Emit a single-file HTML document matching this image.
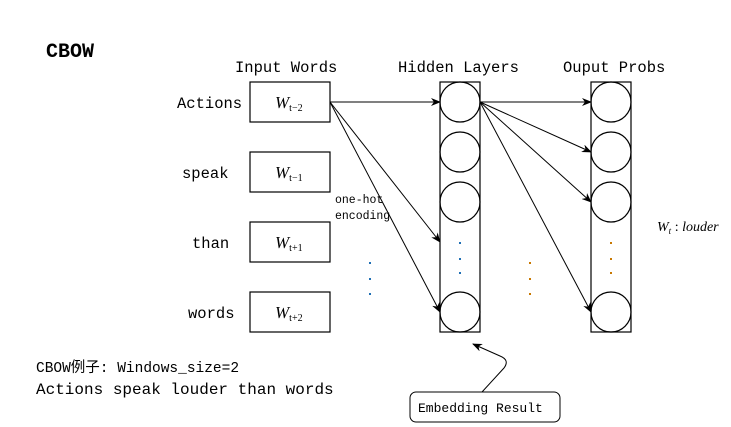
<!DOCTYPE html>
<html><head><meta charset="utf-8"><style>
html,body{margin:0;padding:0;background:#fff;width:731px;height:427px;overflow:hidden}
text{font-family:"Liberation Mono","Noto Sans CJK SC",monospace;fill:#000}
.m{font-family:"Liberation Serif",serif;font-style:italic}
.s{font-style:normal}
</style></head><body>
<svg width="731" height="427" viewBox="0 0 731 427" xmlns="http://www.w3.org/2000/svg">
<defs><marker id="a" markerWidth="10" markerHeight="8" refX="9" refY="4" orient="auto" markerUnits="userSpaceOnUse"><path d="M0,0 L10,4 L0,8 L3,4 z" fill="#000"/></marker></defs>
<text x="46" y="57" font-size="20" font-weight="bold">CBOW</text>
<text x="235" y="72" font-size="15.5">Input Words</text>
<text x="398" y="72" font-size="15.5">Hidden Layers</text>
<text x="563" y="72" font-size="15.5">Ouput Probs</text>
<text x="177" y="108" font-size="15.5">Actions</text>
<text x="182" y="178" font-size="15.5">speak</text>
<text x="192" y="248" font-size="15.5">than</text>
<text x="188" y="318" font-size="15.5">words</text>
<g fill="none" stroke="#000" stroke-width="1.2">
<rect x="250" y="82" width="80" height="40"/><rect x="250" y="152" width="80" height="40"/>
<rect x="250" y="222" width="80" height="40"/><rect x="250" y="292" width="80" height="40"/>
<rect x="440" y="82" width="40" height="250"/><rect x="591" y="82" width="40" height="250"/>
<circle cx="460" cy="102" r="20"/><circle cx="460" cy="152" r="20"/><circle cx="460" cy="202" r="20"/><circle cx="460" cy="312" r="20"/>
<circle cx="611" cy="102" r="20"/><circle cx="611" cy="152" r="20"/><circle cx="611" cy="202" r="20"/><circle cx="611" cy="312" r="20"/>
</g>
<g stroke="#000" stroke-width="1" marker-end="url(#a)">
<line x1="330" y1="102" x2="440" y2="102"/><line x1="330" y1="102" x2="440" y2="242"/><line x1="330" y1="102" x2="440" y2="312"/>
<line x1="480" y1="102" x2="591" y2="102"/><line x1="480" y1="102" x2="591" y2="152"/><line x1="480" y1="102" x2="591" y2="202"/><line x1="480" y1="102" x2="591" y2="312"/>
<path d="M482,392 L504,368 Q510,360 500,356 L473,344" fill="none"/>
</g>
<g>
<text x="275" y="108" font-size="17" class="m">W<tspan class="s" font-size="10" dy="3">t−2</tspan></text>
<text x="275" y="178" font-size="17" class="m">W<tspan class="s" font-size="10" dy="3">t−1</tspan></text>
<text x="275" y="248" font-size="17" class="m">W<tspan class="s" font-size="10" dy="3">t+1</tspan></text>
<text x="275" y="318" font-size="17" class="m">W<tspan class="s" font-size="10" dy="3">t+2</tspan></text>
<text x="657" y="231" font-size="14" class="m">W<tspan font-size="9" dy="3">t</tspan><tspan dy="-3" class="s"> : </tspan><tspan>louder</tspan></text>
</g>
<text x="335" y="203" font-size="11.5">one-hot</text>
<text x="335" y="219" font-size="11.5">encoding</text>
<g fill="#1f6fb4"><rect x="369" y="262" width="2" height="2"/><rect x="369" y="278" width="2" height="2"/><rect x="369" y="293" width="2" height="2"/>
<rect x="459" y="242" width="2" height="2"/><rect x="459" y="258" width="2" height="2"/><rect x="459" y="272" width="2" height="2"/></g>
<g fill="#c87800"><rect x="529" y="262" width="2" height="2"/><rect x="529" y="278" width="2" height="2"/><rect x="529" y="293" width="2" height="2"/>
<rect x="610" y="242" width="2" height="2"/><rect x="610" y="258" width="2" height="2"/><rect x="610" y="272" width="2" height="2"/></g>
<rect x="410" y="392" width="150" height="30" rx="6" fill="none" stroke="#000" stroke-width="1"/>
<text x="418" y="412" font-size="13">Embedding Result</text>
<text x="36" y="372" font-size="14.5">CBOW例子: Windows_size=2</text>
<text x="36" y="394" font-size="16">Actions speak louder than words</text>
</svg>
</body></html>
